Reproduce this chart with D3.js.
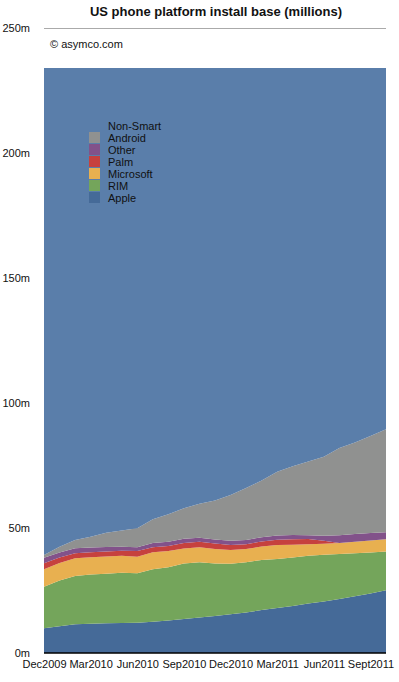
<!DOCTYPE html>
<html>
<head>
<meta charset="utf-8">
<script src="https://cdn.jsdelivr.net/npm/d3@7"></script>
<style>
  body { margin: 0; background: #fff; }
  svg text { font-family: "Liberation Sans", Arial, Helvetica, sans-serif; fill: #111; }
</style>
</head>
<body>
<div class="chart"></div>
<script>
// months Dec2009 .. Oct2011
const months = ["Dec2009","Jan2010","Feb2010","Mar2010","Apr2010","May2010","Jun2010","Jul2010","Aug2010","Sep2010","Oct2010","Nov2010",
  "Dec2010","Jan2011","Feb2011","Mar2011","Apr2011","May2011","Jun2011","Jul2011","Aug2011","Sep2011","Oct2011"];
const tickMonths = ["Dec2009","Mar2010","Jun2010","Sep2010","Dec2010","Mar2011","Jun2011","Sep2011"];
const tickLabels = ["Dec2009","Mar2010","Jun2010","Sep2010","Dec2010","Mar2011","Jun2011","Sept2011"];
const yTicks = [0, 50, 100, 150, 200, 250];

// millions, per platform
const apple     = [9.9,10.7,11.5,11.7,11.9,12.0,12.1,12.5,13.0,13.6,14.2,14.8,15.5,16.2,17.2,18.0,18.8,19.8,20.6,21.6,22.7,23.8,25.1];
const rim       = [16.6,18.3,19.3,19.7,19.8,20.1,19.8,21.0,21.3,22.2,22.1,21.0,20.2,20.1,20.0,19.6,19.4,19.1,18.7,18.0,17.2,16.4,15.5];
const microsoft = [7.0,7.0,7.1,6.9,6.9,6.8,6.6,6.8,6.5,6.0,6.0,5.8,5.5,5.3,5.4,5.6,5.1,4.6,4.4,4.4,4.6,4.8,4.9];
const palm      = [2.4,2.2,2.0,2.0,2.0,2.0,2.3,2.0,2.0,2.2,2.2,2.2,2.0,1.9,2.0,2.1,2.2,2.1,1.2,0,0,0,0];
const other     = [2.2,2.0,2.0,1.9,1.8,1.6,1.5,1.7,1.7,1.7,1.6,1.6,1.7,1.7,1.7,1.7,1.7,1.5,2.0,3.1,3.1,3.0,2.8];
const android   = [1.1,2.3,3.3,4.3,5.7,6.5,7.6,9.5,11.0,12.2,13.6,15.6,18.3,20.8,22.7,25.5,27.5,29.5,31.6,34.9,36.6,38.8,41.2];
const nonSmart  = [194.8,191.5,188.8,187.5,185.9,185.0,184.1,180.5,178.5,176.1,174.3,173.0,170.8,168.0,165.0,161.5,159.3,157.4,155.5,152.0,149.8,147.2,144.5];

const seriesNames = ["Apple","RIM","Microsoft","Palm","Other","Android","Non-Smart"];
const seriesData = [apple, rim, microsoft, palm, other, android, nonSmart];
const colors = ["#456a98","#74a55b","#e8b050","#c6413e","#82528a","#909190","#5a7eaa"];

const W = 399, H = 682;
const margin = { top: 28, right: 13, bottom: 29, left: 44 };

const table = months.map((m, i) => {
  const row = { month: m };
  seriesNames.forEach((s, k) => { row[s] = seriesData[k][i]; });
  return row;
});

const svg = d3.select(".chart").append("svg")
  .attr("width", W).attr("height", H);

const x = d3.scalePoint().domain(months).range([margin.left, W - margin.right]);
const y = d3.scaleLinear().domain([0, 250]).range([H - margin.bottom, margin.top]);
const color = d3.scaleOrdinal().domain(seriesNames).range(colors);

// title
svg.append("text")
  .attr("x", 216).attr("y", 16)
  .attr("text-anchor", "middle")
  .style("font-size", "13px").style("font-weight", "bold")
  .text("US phone platform install base (millions)");

// grid lines
svg.append("g").selectAll("line")
  .data(yTicks.filter(d => d > 0))
  .enter().append("line")
  .attr("x1", margin.left).attr("x2", W - margin.right)
  .attr("y1", d => y(d) + 0.5).attr("y2", d => y(d) + 0.5)
  .attr("stroke", "#aaa").attr("stroke-width", 1);

// stacked areas
const stack = d3.stack().keys(seriesNames);
const layers = stack(table);
const area = d3.area()
  .x(d => x(d.data.month))
  .y0(d => y(d[0]))
  .y1(d => y(d[1]));

svg.append("g").selectAll("path")
  .data(layers)
  .enter().append("path")
  .attr("d", area)
  .attr("fill", d => color(d.key));

// y axis (labels only)
const yAxis = d3.axisLeft(y).tickValues(yTicks).tickSize(0).tickPadding(14)
  .tickFormat(d => d + "m");
const gy = svg.append("g")
  .attr("transform", "translate(" + margin.left + ",0)")
  .call(yAxis);
gy.select(".domain").remove();
gy.selectAll("text").style("font-size", "11px").attr("fill", "#111")
  .style("font-family", "'Liberation Sans', Arial, sans-serif");

// x axis
const xAxis = d3.axisBottom(x).tickValues(tickMonths).tickSize(0).tickPadding(7)
  .tickFormat((d, i) => tickLabels[i]);
const gx = svg.append("g")
  .attr("transform", "translate(0," + y(0) + ")")
  .call(xAxis);
gx.select(".domain").attr("stroke", "#000").attr("stroke-width", 1.3)
  .attr("d", "M" + margin.left + ",0H" + (W - margin.right));
gx.selectAll("text").style("font-size", "11px").attr("fill", "#111")
  .style("font-family", "'Liberation Sans', Arial, sans-serif");

// copyright
svg.append("text")
  .attr("x", 50).attr("y", 48)
  .style("font-size", "11px")
  .text("\u00a9 asymco.com");

// legend
const legendOrder = seriesNames.slice().reverse();
const legend = svg.append("g").attr("transform", "translate(89,120)");
const items = legend.selectAll("g")
  .data(legendOrder)
  .enter().append("g")
  .attr("transform", (d, i) => "translate(0," + (i * 12) + ")");
items.append("rect")
  .attr("width", 11).attr("height", 11)
  .attr("fill", d => color(d));
items.append("text")
  .attr("x", 19).attr("y", 10)
  .style("font-size", "11px")
  .text(d => d);
</script>
</body>
</html>
